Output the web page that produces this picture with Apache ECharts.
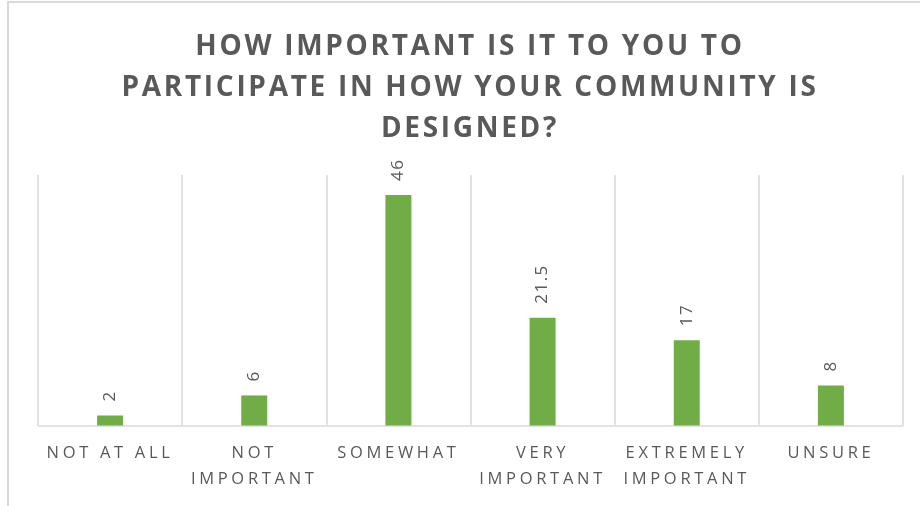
<!DOCTYPE html>
<html>
<head>
<meta charset="utf-8">
<style>
  html, body { margin: 0; padding: 0; background: #ffffff; }
  #chart { width: 920px; height: 506px; }
</style>
<script src="https://cdn.jsdelivr.net/npm/echarts@6/dist/echarts.min.js"></script>
</head>
<body>
<div id="chart"></div>
<script>
// Survey answers and their counts
const categories = ['NOT AT ALL', 'NOT\nIMPORTANT', 'SOMEWHAT', 'VERY\nIMPORTANT', 'EXTREMELY\nIMPORTANT', 'UNSURE'];
const responses = [2, 6, 46, 21.5, 17, 8];
const titleText = 'HOW IMPORTANT IS IT TO YOU TO\nPARTICIPATE IN HOW YOUR COMMUNITY IS\nDESIGNED?';

// Letter-spaced caps: spacing per font size (px) used by the canvas text
const spacingBySize = { '28': 2.7, '16.5': 3.7, '17': 1.5 };
(function () {
  const proto = CanvasRenderingContext2D.prototype;
  const desc = Object.getOwnPropertyDescriptor(proto, 'font');
  if (!desc || !('letterSpacing' in proto)) return;
  Object.defineProperty(proto, 'font', {
    configurable: true,
    get() { return desc.get.call(this); },
    set(v) {
      desc.set.call(this, v);
      const m = /(\d+(?:\.\d+)?)px/.exec(v);
      const sp = m && spacingBySize[m[1]] ? spacingBySize[m[1]] : 0;
      this.letterSpacing = sp + 'px';
    }
  });
})();

const textColor = '#595959';
const gridColor = '#d9d9d9';

const chart = echarts.init(document.getElementById('chart'), null, { renderer: 'canvas' });
chart.setOption({
  animation: false,
  backgroundColor: '#ffffff',
  title: {
    text: titleText,
    left: 465,
    textAlign: 'center',
    top: 22,
    textStyle: {
      fontFamily: 'Open Sans',
      fontSize: 28,
      fontWeight: 'bold',
      color: textColor,
      lineHeight: 41
    }
  },
  graphic: [{
    type: 'rect',
    shape: { x: 8, y: 2, width: 1000, height: 700 },
    style: { fill: 'none', stroke: gridColor, lineWidth: 2 },
    silent: true
  }],
  grid: { left: 38, right: 17, top: 175, bottom: 80.5, containLabel: false },
  xAxis: {
    type: 'category',
    data: categories,
    axisLine: { show: true, lineStyle: { color: gridColor, width: 1.5 } },
    axisTick: { show: false },
    splitLine: { show: true, interval: 0, lineStyle: { color: gridColor, width: 1.5 } },
    axisLabel: {
      interval: 0,
      margin: 15,
      fontFamily: 'Open Sans',
      fontSize: 16.5,
      lineHeight: 26,
      color: textColor
    }
  },
  yAxis: {
    type: 'value',
    min: 0,
    max: 50,
    show: false,
    splitLine: { show: false }
  },
  series: [{
    type: 'bar',
    data: responses,
    barWidth: 26,
    itemStyle: { color: '#70ad47' },
    label: {
      show: true,
      position: 'top',
      distance: 14,
      rotate: 90,
      align: 'left',
      verticalAlign: 'middle',
      fontFamily: 'Open Sans',
      fontSize: 17,
      color: textColor
    }
  }]
});
</script>
</body>
</html>
